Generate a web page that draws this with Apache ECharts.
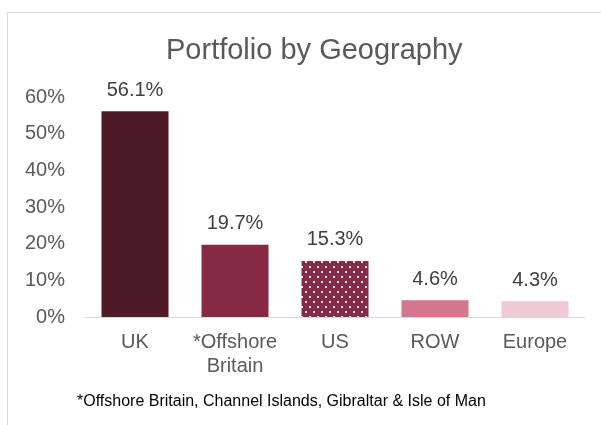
<!DOCTYPE html>
<html><head><meta charset="utf-8">
<script src="https://cdn.jsdelivr.net/npm/echarts@6/dist/echarts.min.js"></script>
<style>html,body{margin:0;padding:0;background:#fff}#c{width:601px;height:425px}</style>
</head><body><div id="c"></div>
<script>
const categories = ['UK', '*Offshore\nBritain', 'US', 'ROW', 'Europe'];
const values = [56.1, 19.7, 15.3, 4.6, 4.3];
const barColors = ['#4E1A26', '#862A43', 'pattern', '#D4768E', '#EFCAD4'];
const yTicks = [0, 10, 20, 30, 40, 50, 60];

function makePattern() {
  const c = document.createElement('canvas');
  c.width = 8; c.height = 10;
  const g = c.getContext('2d');
  g.fillStyle = '#862A45';
  g.fillRect(0, 0, 8, 10);
  g.fillStyle = '#F4E6EA';
  g.fillRect(1, 1, 2, 2);
  g.fillRect(5, 6, 2, 2);
  return c;
}
const pat = makePattern();

const chart = echarts.init(document.getElementById('c'), null, {renderer: 'canvas'});
const font = 'Liberation Sans, Arial, sans-serif';
chart.setOption({
  animation: false,
  title: {
    text: 'Portfolio by Geography', left: 161, top: 31,
    textStyle: {fontFamily: font, fontSize: 29, fontWeight: 'normal', color: '#595959'}
  },
  graphic: [
    {type: 'rect', shape: {x: 7.5, y: 12.5, width: 800, height: 600}, style: {fill: 'none', stroke: '#D9D9D9', lineWidth: 1}, z: -1},
    {type: 'text', left: 77, top: 394, style: {text: '*Offshore Britain, Channel Islands, Gibraltar & Isle of Man', font: '16px ' + font, fill: '#000'}}
  ],
  grid: {left: 85, right: 16, top: 97, bottom: 108, containLabel: false},
  xAxis: {
    type: 'category', data: categories,
    axisLine: {lineStyle: {color: '#D9D9D9', width: 1}},
    axisTick: {show: false},
    axisLabel: {interval: 0, fontFamily: font, fontSize: 20, color: '#595959', margin: 13, lineHeight: 24}
  },
  yAxis: {
    type: 'value', min: 0, max: 60, interval: 10,
    splitLine: {show: false},
    axisLine: {show: false}, axisTick: {show: false},
    axisLabel: {fontFamily: font, fontSize: 20, color: '#595959', margin: 20, formatter: v => v + '%'}
  },
  series: [{
    type: 'bar', barWidth: '67%',
    data: values.map((v, i) => ({value: v, itemStyle: {color: barColors[i] === 'pattern' ? {image: pat, repeat: 'repeat'} : barColors[i]}})),
    label: {show: true, position: 'top', distance: 11, fontFamily: font, fontSize: 20, color: '#404040', formatter: p => p.value.toFixed(1) + '%'}
  }]
});
</script></body></html>
